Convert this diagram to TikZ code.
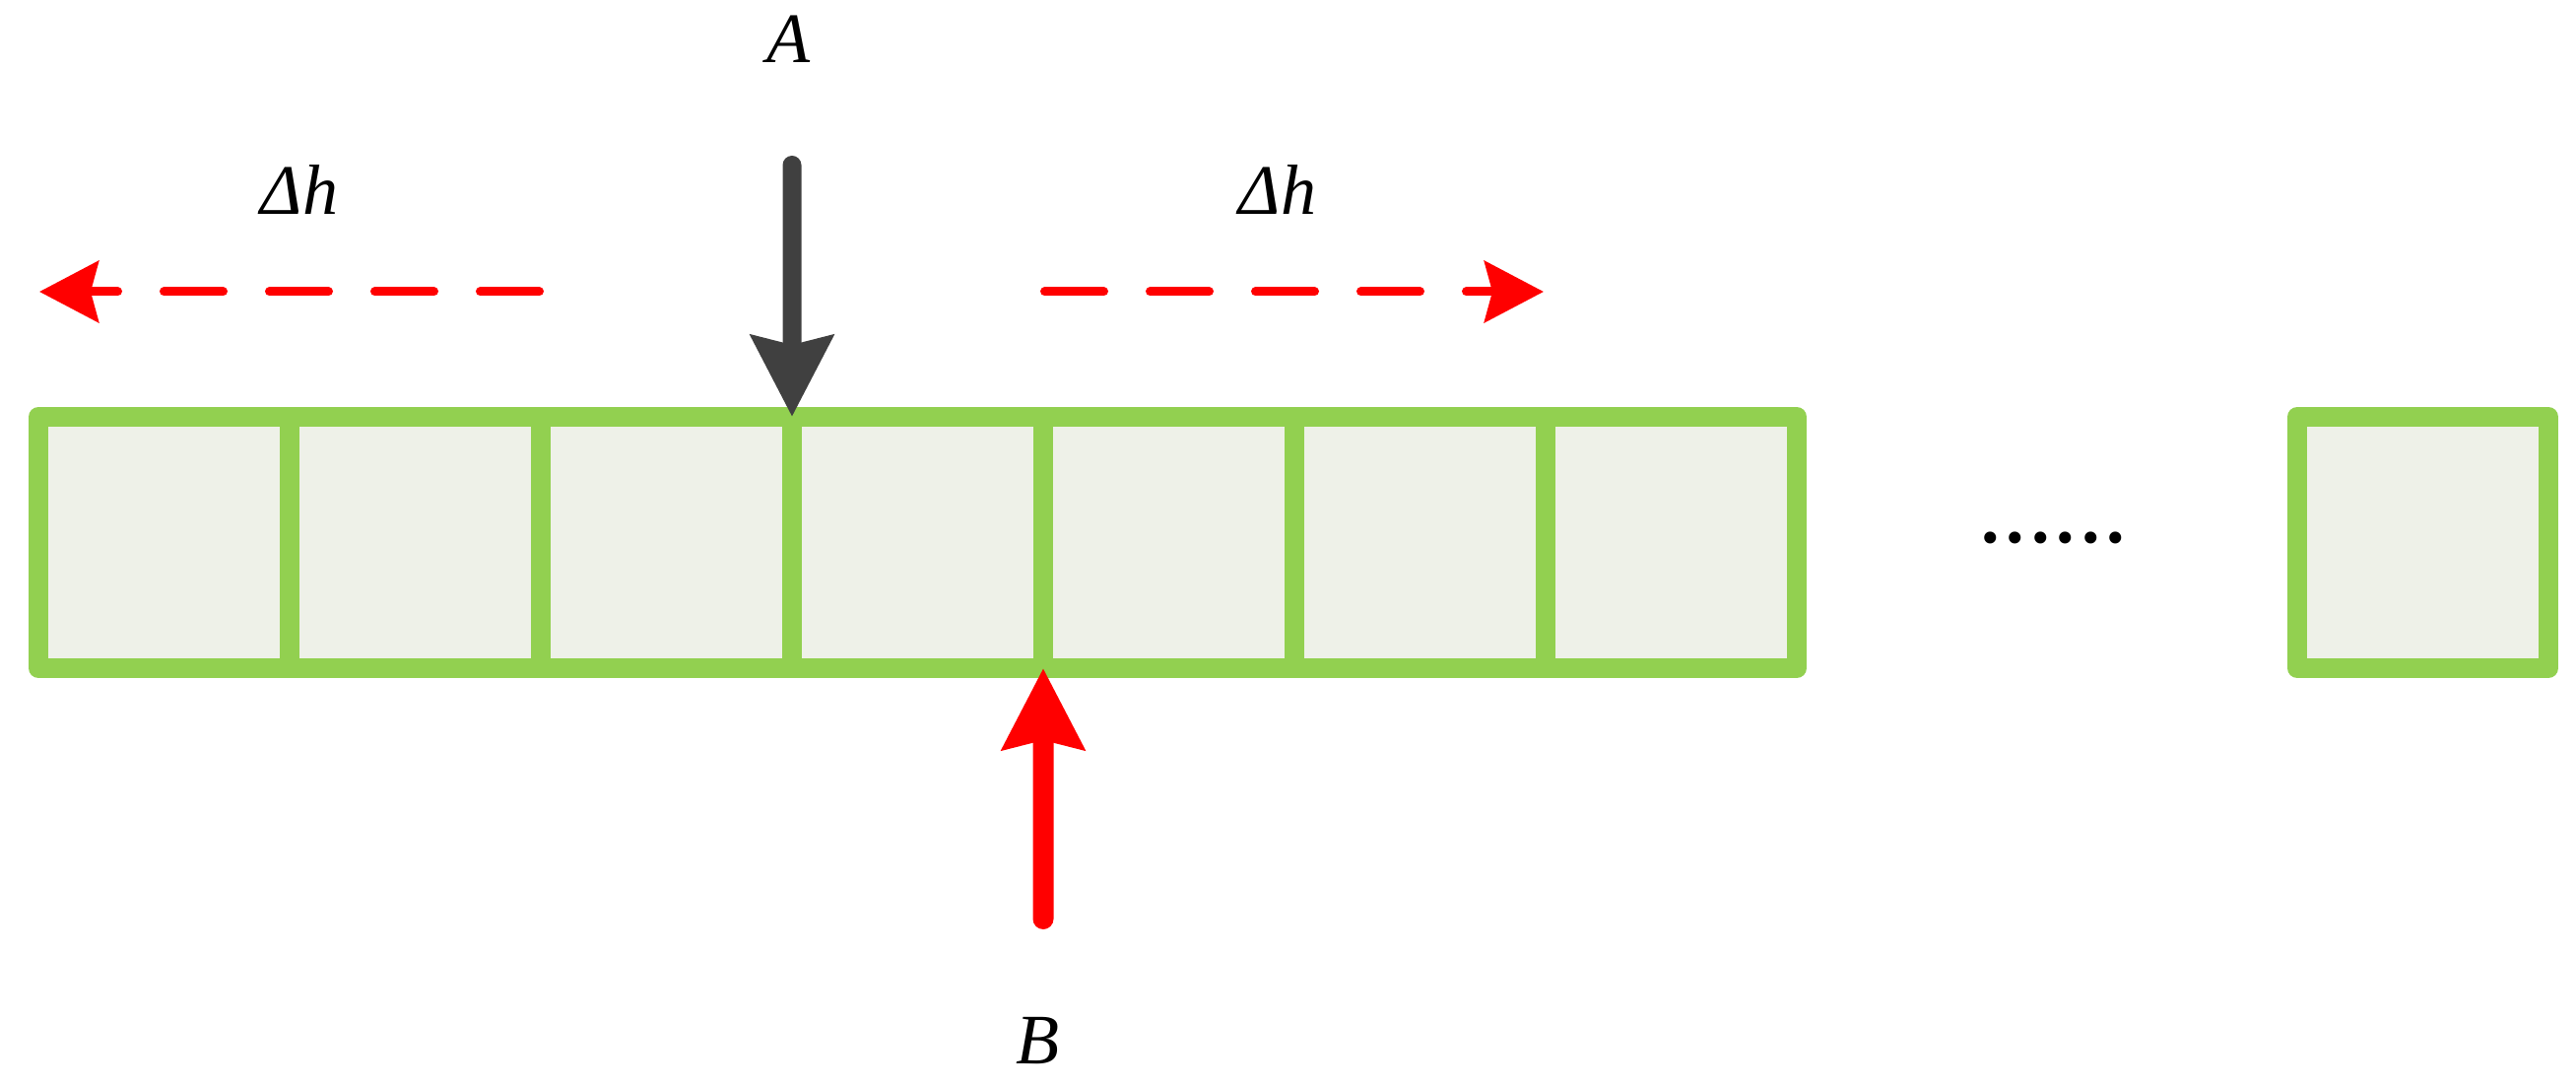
\documentclass[tikz,border=0pt]{standalone}
\usepackage{fontspec}
\setmainfont{Liberation Serif}
\usetikzlibrary{arrows.meta}
\usetikzlibrary{positioning}
\definecolor{cellgreen}{RGB}{146,208,80}
\definecolor{cellfill}{RGB}{238,241,232}
\definecolor{pushgray}{RGB}{64,64,64}

\begin{document}
\begin{tikzpicture}[
  cell/.style={draw=cellgreen,fill=cellfill,line width=2mm,line join=round,minimum size=2.55cm,inner sep=0pt,outer sep=0pt},
  lbl/.style={inner sep=0pt,font=\fontsize{20.5}{24}\selectfont\itshape},
  push/.style={line width=1.9mm,line cap=round,-{Stealth[length=8.2mm,width=8.2mm,inset=0.9mm]}},
  spread/.style={red,line width=0.9mm,line cap=round,dash pattern=on 6mm off 4.7mm,-{Stealth[length=6mm,width=6.2mm,inset=0.8mm]}}]
\useasboundingbox (0,0) rectangle (26.15,11.02);
\def\v{5.515}
\node[cell] (c1) at (1.665,\v) {};
\node[cell,right=0pt of c1] (c2) {};
\node[cell,right=0pt of c2] (c3) {};
\node[cell,right=0pt of c3] (c4) {};
\node[cell,right=0pt of c4] (c5) {};
\node[cell,right=0pt of c5] (c6) {};
\node[cell,right=0pt of c6] (c7) {};
\node[cell] (cn) at (24.595,\v) {};
\node[inner sep=0pt,anchor=base,font=\fontsize{29}{30}\selectfont\itshape] (dots) at (20.865,5.51) {......};

\node[lbl] (la) at (8.0,10.62) {A};
\node[lbl] (lb) at (10.53,0.46) {B};
\node[lbl] (dl) at (3.04,9.09) {Δh};
\node[lbl] (dr) at (12.97,9.09) {Δh};

\coordinate (atop) at (8.04,9.345);
\coordinate (bbot) at (10.59,1.695);
\draw[push,pushgray] (atop) -- (c4.north west);
\draw[push,red,line width=2.1mm] (bbot) -- (c5.south west);

\coordinate (lstart) at (5.475,8.06);
\coordinate (ltip) at (0.40,8.06);
\coordinate (rstart) at (10.605,8.06);
\coordinate (rtip) at (15.67,8.06);
\draw[spread] (lstart) -- (ltip);
\draw[spread] (rstart) -- (rtip);
\end{tikzpicture}
\end{document}
